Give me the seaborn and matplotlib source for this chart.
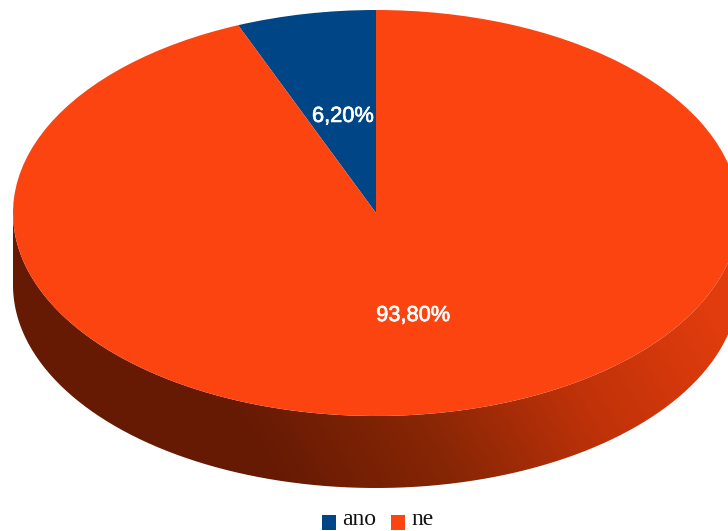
import numpy as np
import matplotlib
matplotlib.use("Agg")
import matplotlib.pyplot as plt
import matplotlib.patheffects as pe
from matplotlib.patches import PathPatch, Patch
from matplotlib.path import Path
from matplotlib.transforms import offset_copy
import seaborn as sns

# Survey answers
categories = ["ano", "ne"]
shares = [6.2, 93.8]
slice_colors = ["#004586", "#fb4410"]
rim_colors = ["#661a04", "#872605", "#c03209", "#e03c0d"]

WIDTH, HEIGHT = 728, 531
CX, CY, RX, RY = 376, 213, 363, 203
RIM_DEPTH = 72 / RY

sns.set_theme(style="white")
fig = plt.figure(figsize=(WIDTH / 100, HEIGHT / 100), dpi=100, facecolor="white")
ax = fig.add_axes([0, 0, 1, 1])


def percent_label(value):
    return f"{value:.2f}%".replace(".", ",")


wedges, _, pct_texts = ax.pie(
    shares,
    colors=slice_colors,
    startangle=90,
    counterclock=True,
    autopct=percent_label,
    pctdistance=0.5,
    wedgeprops={"linewidth": 0, "zorder": 3},
    textprops={"zorder": 4},
)
label_transform = offset_copy(ax.transData, fig=fig, x=2, y=-3, units="dots")
for t in pct_texts:
    t.set(color="white", fontsize=15.7, family="Liberation Sans", transform=label_transform,
          path_effects=[pe.withStroke(linewidth=0.5, foreground="white")])

# Extruded rim below the disc: front half of the ellipse swept downwards
ax.set_aspect("auto")
xlim = ((0 - CX) / RX, (WIDTH - CX) / RX)
ylim = ((CY - HEIGHT) / RY, CY / RY)

theta = np.linspace(np.pi, 2 * np.pi, 300)
rim_x = np.concatenate([np.cos(theta), np.cos(theta[::-1])])
rim_y = np.concatenate([np.sin(theta), np.sin(theta[::-1]) - RIM_DEPTH])
rim_path = Path(np.column_stack([rim_x, rim_y]))
rim_patch = PathPatch(rim_path, facecolor="none", edgecolor="none", transform=ax.transData)
ax.add_patch(rim_patch)

# Shading runs diagonally, dark at lower left and bright at upper right
gx = np.linspace(xlim[0], xlim[1], 500)
gy = np.linspace(ylim[0], ylim[1], 400)
grid_x, grid_y = np.meshgrid(gx, gy)
px = CX + RX * grid_x
py = CY - RY * grid_y
shade = np.clip((px - 0.6 * py + 10) / 531, 0, 1)
rim_cmap = sns.blend_palette(rim_colors, as_cmap=True)
rim_img = ax.imshow(shade, extent=(xlim[0], xlim[1], ylim[0], ylim[1]), origin="lower",
                    cmap=rim_cmap, vmin=0, vmax=1, aspect="auto", zorder=1,
                    interpolation="bilinear")
rim_img.set_clip_path(rim_patch)

ax.set_xlim(*xlim)
ax.set_ylim(*ylim)
ax.axis("off")

handles = [Patch(facecolor=c, edgecolor="none") for c in slice_colors]
legend = fig.legend(
    handles, categories,
    loc="lower center", bbox_to_anchor=(0.5185, -0.039), ncol=2, frameon=False,
    prop={"family": "Liberation Serif", "size": 17},
    labelcolor="#111111",
    handlelength=0.61, handleheight=0.61, handletextpad=0.25, columnspacing=0.63,
)
# Drop the colour keys slightly so they sit on the text baseline
for key in legend.legend_handles:
    key.set_y(key.get_y() - 3.6)

fig.savefig("out.png", dpi=100, facecolor="white")
